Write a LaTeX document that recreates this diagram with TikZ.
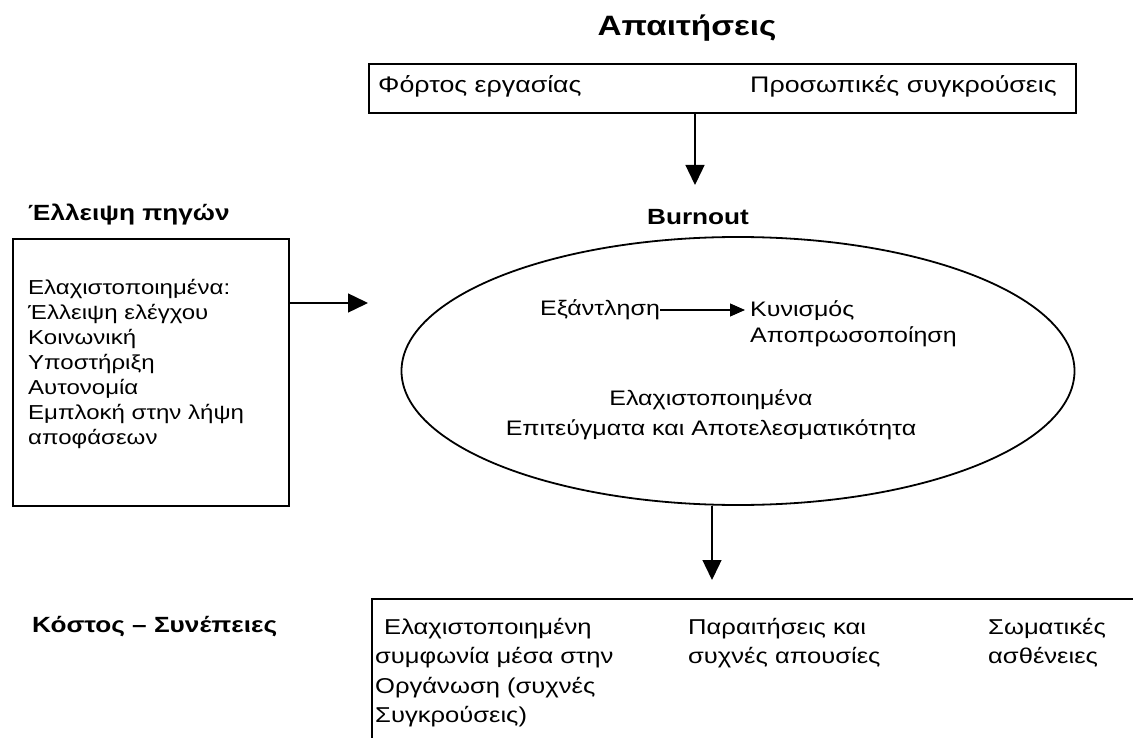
\documentclass[tikz,border=0pt]{standalone}
\usepackage{fontspec}
\setmainfont{Liberation Sans}[FakeStretch=1.19]
\usetikzlibrary{arrows.meta,shapes.geometric}
\tikzset{
  txt/.style={inner sep=0pt, font=\fontsize{21}{30}\selectfont, align=left},
  ttl/.style={inner sep=0pt, font=\fontsize{22}{26}\selectfont\bfseries},
  boxline/.style={line width=1.8pt},
  arr/.style={line width=1.4pt, -{Triangle[length=20pt,width=19pt]}},
  sarr/.style={line width=1.1pt, -{Triangle[length=15pt,width=13pt]}},
}
\begin{document}
\begin{tikzpicture}[x=1pt,y=-1pt]
\useasboundingbox (0,0) rectangle (1133,738);
% top
\node[ttl, font=\fontsize{28}{30}\selectfont\bfseries] (dem) at (687,28) {Απαιτήσεις};
\node[boxline, draw, anchor=north west, minimum width=707pt, minimum height=49pt, inner sep=0pt] (top) at (368,63) {};
\node[txt, anchor=west, font=\fontsize{22.5}{27}\selectfont] (f1) at (378,86) {Φόρτος εργασίας};
\node[txt, anchor=east, font=\fontsize{22.5}{27}\selectfont] (f2) at (1057,86) {Προσωπικές συγκρούσεις};
\coordinate (a1) at (695,185);
\draw[arr] (a1 |- top.south) -- (a1);
% burnout
\node[ttl] (burn) at (698,217) {Burnout};
\node[boxline, draw, ellipse, minimum width=673pt, minimum height=268pt, inner sep=0pt] (ell) at (738,371) {};
\node[txt, anchor=west] (ex) at (540,310) {Εξάντληση};
\node[txt, anchor=north west, font=\fontsize{21}{26}\selectfont] (ky) at (750,300) {Κυνισμός\\Αποπρωσοποίηση};
\coordinate (a2) at (745,310);
\draw[sarr] (ex.east) -- (a2);
\node[txt, align=center] (el) at (711,415) {Ελαχιστοποιημένα\\Επιτεύγματα και Αποτελεσματικότητα};
% left
\node[ttl, anchor=west] (lack) at (28,215) {Έλλειψη πηγών};
\node[boxline, draw, anchor=north west, minimum width=276pt, minimum height=267pt, inner sep=0pt] (lb) at (12,238) {};
\node[txt, anchor=north west, font=\fontsize{20.2}{25}\selectfont] (lt) at (28,279) {Ελαχιστοποιημένα:\\Έλλειψη ελέγχου\\Κοινωνική\\Υποστήριξη\\Αυτονομία\\Εμπλοκή στην λήψη\\αποφάσεων};
\coordinate (a0) at (368,303);
\draw[arr] (lb.east |- a0) -- (a0);
% bottom
\coordinate (a3) at (712,580);
\draw[arr] (a3 |- ell.south) -- (a3);
\node[ttl, anchor=west] (cost) at (32,627) {Κόστος – Συνέπειες};
\coordinate (bl) at (372,738);
\coordinate (bt) at (372,599);
\coordinate (br) at (1133,599);
\draw[boxline] (bl) -- (bt) -- (br);
\node[txt, anchor=north west, font=\fontsize{21.5}{29.5}\selectfont] (c1) at (375,618) {\hspace{9pt}Ελαχιστοποιημένη\\συμφωνία μέσα στην\\Οργάνωση (συχνές\\Συγκρούσεις)};
\node[txt, anchor=north west, font=\fontsize{21.5}{29.5}\selectfont] (c2) at (688,618) {Παραιτήσεις και\\συχνές απουσίες};
\node[txt, anchor=north west, font=\fontsize{21.5}{29.5}\selectfont] (c3) at (988,618) {Σωματικές\\ασθένειες};
\end{tikzpicture}
\end{document}
